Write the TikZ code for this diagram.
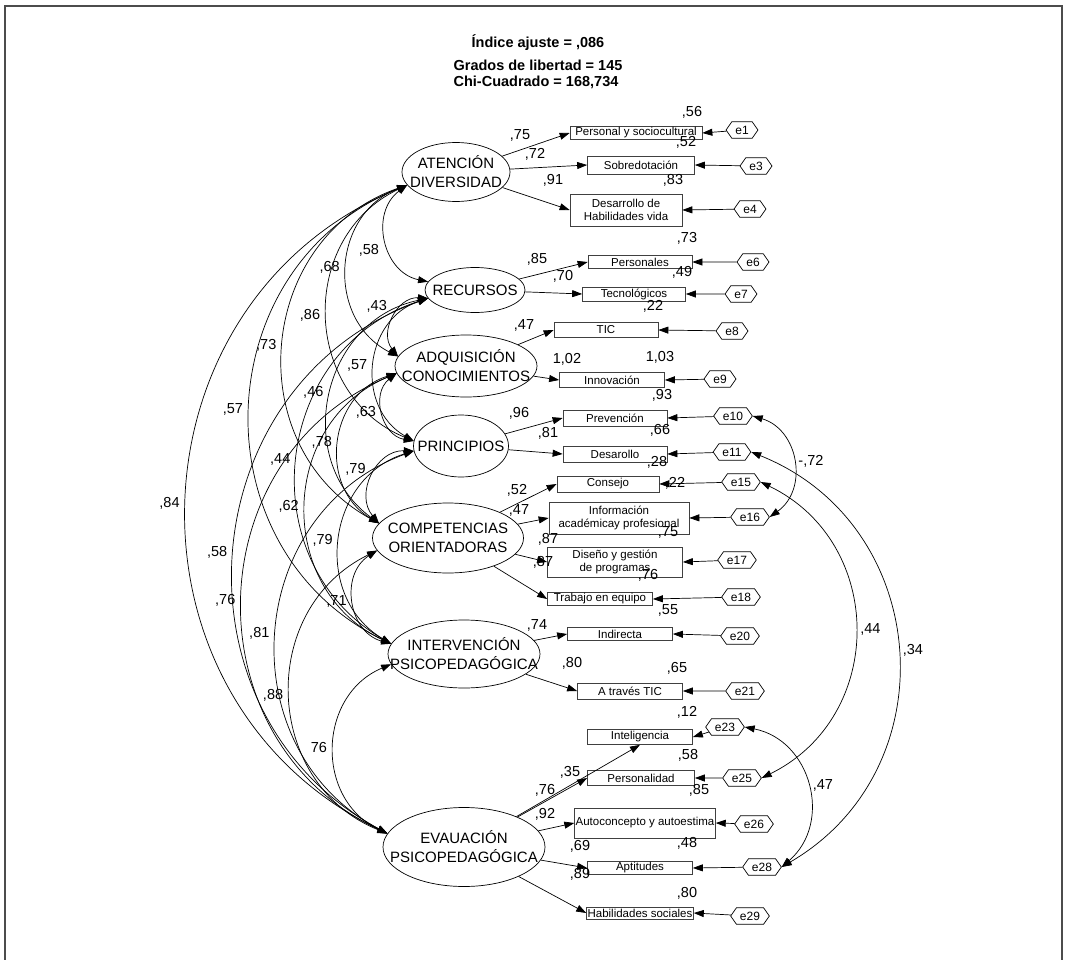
\documentclass[tikz,border=0pt]{standalone}
\usepackage{fontspec}
\setmainfont{Liberation Sans}
\usetikzlibrary{arrows.meta,shapes.geometric,shapes.misc}

\begin{document}
\begin{tikzpicture}[x=1pt,y=1pt,line width=0.7pt,
  >={Triangle[length=10pt,width=7pt]},
  lat/.style={ellipse,draw,inner sep=0pt},
  lattxt/.style={align=center,font=\fontsize{15}{19}\selectfont},
  box/.style={draw=black!75,inner sep=1pt,align=center,font=\fontsize{11.5}{13.5}\selectfont},
  err/.style={chamfered rectangle,chamfered rectangle xsep=4pt,chamfered rectangle angle=35,draw,inner xsep=6pt,inner ysep=0.5pt,font=\fontsize{12}{13}\selectfont},
  num/.style={font=\fontsize{14.5}{16}\selectfont,inner sep=1pt},
  ld/.style={->},
  cov/.style={<->,bend right=66,looseness=1.21},
  ecov/.style={<->,bend left=64,looseness=1.2},
  cl/.style={left=6pt,num},
  ecl/.style={right=4pt,num}]
  \useasboundingbox (0,0) rectangle (1065,-960);
  \draw[line width=1.5pt,black!70] (5,-965) -- (5,-6) -- (1062,-6) -- (1062,-965);

  % fit
  \node[font=\bfseries\fontsize{14.5}{16}\selectfont] (t1) at (538,-43) {Índice ajuste = ,086};
  \node[font=\bfseries\fontsize{14.5}{16}\selectfont] (t2) at (538,-65) {Grados de libertad = 145};
  \node[font=\bfseries\fontsize{14.5}{16}\selectfont] (t3) at (536,-82) {Chi-Cuadrado = 168,734};

  % factors
  \node[lat,minimum width=108,minimum height=59] (A) at (456,-172) {};
  \node[lat,minimum width=100,minimum height=45] (R) at (475,-290) {};
  \node[lat,minimum width=142,minimum height=62] (Q) at (466,-366) {};
  \node[lat,minimum width=95,minimum height=62] (P) at (461,-446) {};
  \node[lat,minimum width=151,minimum height=70] (C) at (448,-538) {};
  \node[lat,minimum width=152,minimum height=68] (I) at (464,-654) {};
  \node[lat,minimum width=162,minimum height=79] (E) at (464,-847) {};
  \node[lattxt] (At) at (A) {ATENCIÓN\\DIVERSIDAD};
  \node[lattxt] (Rt) at (R) {RECURSOS};
  \node[lattxt] (Qt) at (Q) {ADQUISICIÓN\\CONOCIMIENTOS};
  \node[lattxt] (Pt) at (P) {PRINCIPIOS};
  \node[lattxt] (Ct) at (C) {COMPETENCIAS\\ORIENTADORAS};
  \node[lattxt] (It) at (I) {INTERVENCIÓN\\PSICOPEDAGÓGICA};
  \node[lattxt] (Et) at (E) {EVAUACIÓN\\PSICOPEDAGÓGICA};

  % indicators
  \node[box,minimum width=132,minimum height=13] (b1) at (636,-133) {Personal y sociocultural};
  \node[box,minimum width=107,minimum height=18] (b3) at (641,-165) {Sobredotación};
  \node[box,minimum width=112,minimum height=32] (b4) at (626,-210) {Desarrollo de\\Habilidades vida};
  \node[box,minimum width=104,minimum height=13] (b6) at (640,-262) {Personales};
  \node[box,minimum width=103,minimum height=14] (b7) at (634,-294) {Tecnológicos};
  \node[box,minimum width=104,minimum height=15] (b8) at (606,-330) {TIC};
  \node[box,minimum width=105,minimum height=15] (b9) at (612,-380) {Innovación};
  \node[box,minimum width=104,minimum height=16] (b10) at (615,-418) {Prevención};
  \node[box,minimum width=104,minimum height=16] (b11) at (615,-454) {Desarollo};
  \node[box,minimum width=102,minimum height=16] (b15) at (608,-484) {Consejo};
  \node[box,minimum width=140,minimum height=32] (b16) at (619,-518) {Información\\académicay profesional};
  \node[box,minimum width=135,minimum height=30] (b17) at (615,-562) {Diseño y gestión\\de programas};
  \node[box,minimum width=105,minimum height=12] (b18) at (600,-599) {Trabajo en equipo};
  \node[box,minimum width=105,minimum height=13] (b20) at (620,-634) {Indirecta};
  \node[box,minimum width=105,minimum height=16] (b21) at (630,-691) {A través TIC};
  \node[box,minimum width=105,minimum height=15] (b23) at (640,-737) {Inteligencia};
  \node[box,minimum width=107,minimum height=15] (b25) at (641,-778) {Personalidad};
  \node[box,minimum width=124,minimum height=30] (b26) at (645,-823) {Autoconcepto y autoestima};
  \node[box,minimum width=105,minimum height=13] (b28) at (640,-868) {Aptitudes};
  \node[box,minimum width=105,minimum height=12] (b29) at (640,-913) {Habilidades sociales};

  % errors
  \node[err] (e1) at (742,-130) {e1};
  \node[err] (e3) at (756,-166) {e3};
  \node[err] (e4) at (750,-209) {e4};
  \node[err] (e6) at (753,-262) {e6};
  \node[err] (e7) at (741,-294) {e7};
  \node[err] (e8) at (732,-331) {e8};
  \node[err] (e9) at (720,-379) {e9};
  \node[err] (e10) at (733,-416) {e10};
  \node[err] (e11) at (732,-452) {e11};
  \node[err] (e15) at (741,-482) {e15};
  \node[err] (e16) at (750,-517) {e16};
  \node[err] (e17) at (737,-560) {e17};
  \node[err] (e18) at (741,-597) {e18};
  \node[err] (e20) at (740,-636) {e20};
  \node[err] (e21) at (745,-691) {e21};
  \node[err] (e23) at (725,-727) {e23};
  \node[err] (e25) at (742,-778) {e25};
  \node[err] (e26) at (754,-824) {e26};
  \node[err] (e28) at (762,-867) {e28};
  \node[err] (e29) at (750,-916) {e29};

  % loadings
  \draw[ld] (A) -- (b1.west);
  \draw[ld] (A) -- (b3.west);
  \draw[ld] (A) -- (b4.west);
  \draw[ld] (R) -- (b6.west);
  \draw[ld] (R) -- (b7.west);
  \draw[ld] (Q) -- (b8.west);
  \draw[ld] (Q) -- (b9.west);
  \draw[ld] (P) -- (b10.west);
  \draw[ld] (P) -- (b11.west);
  \draw[ld] (C) -- (b15.west);
  \draw[ld] (C) -- (b16.west);
  \draw[ld] (C) -- (b17.west);
  \draw[ld] (C) -- (b18.west);
  \draw[ld] (I) -- (b20.west);
  \draw[ld] (I) -- (b21.west);
  \draw[ld] (E) -- (b23.south);
  \draw[ld] (E) -- (b25.west);
  \draw[ld] (E) -- (b26.west);
  \draw[ld] (E) -- (b28.west);
  \draw[ld] (E) -- (b29.west);

  % error terms
  \draw[ld] (e1) -- (b1.east);
  \draw[ld] (e3) -- (b3.east);
  \draw[ld] (e4) -- (b4.east);
  \draw[ld] (e6) -- (b6.east);
  \draw[ld] (e7) -- (b7.east);
  \draw[ld] (e8) -- (b8.east);
  \draw[ld] (e9) -- (b9.east);
  \draw[ld] (e10) -- (b10.east);
  \draw[ld] (e11) -- (b11.east);
  \draw[ld] (e15) -- (b15.east);
  \draw[ld] (e16) -- (b16.east);
  \draw[ld] (e17) -- (b17.east);
  \draw[ld] (e18) -- (b18.east);
  \draw[ld] (e20) -- (b20.east);
  \draw[ld] (e21) -- (b21.east);
  \draw[ld] (e23) -- (b23.east);
  \draw[ld] (e25) -- (b25.east);
  \draw[ld] (e26) -- (b26.east);
  \draw[ld] (e28) -- (b28.east);
  \draw[ld] (e29) -- (b29.east);

  % weights and R2
  \node[num] (n1) at (692,-112) {,56};
  \node[num] (n2) at (520,-135) {,75};
  \node[num] (n3) at (535,-154) {,72};
  \node[num] (n4) at (686,-142) {,52};
  \node[num] (n5) at (553,-180) {,91};
  \node[num] (n6) at (673,-180) {,83};
  \node[num] (n7) at (687,-238) {,73};
  \node[num] (n8) at (537,-259) {,85};
  \node[num] (n9) at (563,-276) {,70};
  \node[num] (n10) at (682,-272) {,49};
  \node[num] (n11) at (653,-306) {,22};
  \node[num] (n12) at (524,-325) {,47};
  \node[num] (n13) at (567,-359) {1,02};
  \node[num] (n14) at (660,-357) {1,03};
  \node[num] (n15) at (662,-395) {,93};
  \node[num] (n16) at (519,-413) {,96};
  \node[num] (n17) at (548,-433) {,81};
  \node[num] (n18) at (660,-430) {,66};
  \node[num] (n19) at (657,-462) {,28};
  \node[num] (n20) at (675,-483) {,22};
  \node[num] (n21) at (517,-490) {,52};
  \node[num] (n22) at (519,-510) {,47};
  \node[num] (n23) at (668,-532) {,75};
  \node[num] (n24) at (548,-539) {,87};
  \node[num] (n25) at (543,-562) {,87};
  \node[num] (n26) at (648,-575) {,76};
  \node[num] (n27) at (668,-610) {,55};
  \node[num] (n28) at (537,-625) {,74};
  \node[num] (n29) at (572,-663) {,80};
  \node[num] (n30) at (677,-668) {,65};
  \node[num] (n31) at (687,-712) {,12};
  \node[num] (n32) at (688,-755) {,58};
  \node[num] (n33) at (570,-772) {,35};
  \node[num] (n34) at (545,-790) {,76};
  \node[num] (n35) at (699,-790) {,85};
  \node[num] (n36) at (545,-814) {,92};
  \node[num] (n37) at (580,-846) {,69};
  \node[num] (n38) at (687,-843) {,48};
  \node[num] (n39) at (580,-874) {,89};
  \node[num] (n40) at (687,-893) {,80};

  % covariances between factors
  \draw[cov] (A.195) to node[cl,yshift=-10] (cAR) {,58} (R.170);
  \draw[cov] (A.195) to node[cl] (cAQ) {,68} (Q.172);
  \draw[cov] (A.195) to node[cl] (cAP) {,86} (P.174);
  \draw[cov] (A.195) to node[cl] (cAC) {,73} (C.168);
  \draw[cov] (A.195) to node[cl] (cAI) {,57} (I.172);
  \draw[cov] (A.195) to node[cl] (cAE) {,84} (E.170);
  \draw[cov] (R.190) to node[cl,yshift=11] (cRQ) {,43} (Q.172);
  \draw[cov] (R.190) to node[cl] (cRP) {,57} (P.174);
  \draw[cov] (R.190) to node[cl,yshift=3] (cRC) {,46} (C.168);
  \draw[cov] (R.190) to node[cl] (cRI) {,44} (I.172);
  \draw[cov] (R.190) to node[cl] (cRE) {,58} (E.170);
  \draw[cov] (Q.186) to node[cl] (cQP) {,63} (P.174);
  \draw[cov] (Q.186) to node[cl] (cQC) {,78} (C.168);
  \draw[cov] (Q.186) to node[cl] (cQI) {,62} (I.172);
  \draw[cov] (Q.186) to node[cl] (cQE) {,76} (E.170);
  \draw[cov] (P.186) to node[cl,yshift=7] (cPC) {,79} (C.168);
  \draw[cov] (P.186) to node[cl] (cPI) {,79} (I.172);
  \draw[cov] (P.186) to node[cl] (cPE) {,81} (E.170);
  \draw[cov] (C.190) to node[cl] (cCI) {,71} (I.172);
  \draw[cov] (C.190) to node[cl] (cCE) {,88} (E.170);
  \draw[cov] (I.188) to node[cl] (cIE) {76} (E.170);

  % correlated errors
  \draw[ecov] (e10.east) to node[ecl] (k1) {-,72} (e16.east);
  \draw[ecov] (e11.east) to node[ecl] (k2) {,34} (e28.east);
  \draw[ecov] (e15.east) to node[ecl] (k3) {,44} (e25.east);
  \draw[ecov] (e23.east) to node[ecl] (k4) {,47} (e28.east);
\end{tikzpicture}
\end{document}
